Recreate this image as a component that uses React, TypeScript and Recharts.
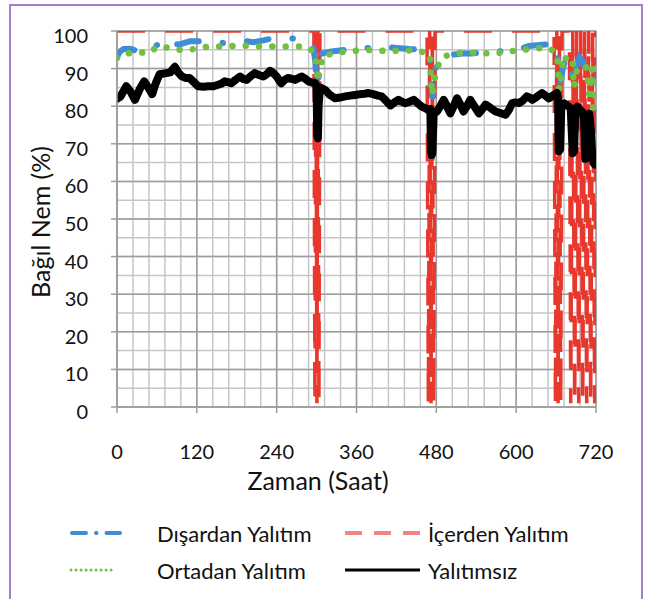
import React from "react";
import { LineChart, Line, XAxis, YAxis, CartesianGrid } from "recharts";

// tick labels
const xTicks = [0, 120, 240, 360, 480, 600, 720];
const yTicks = [0, 10, 20, 30, 40, 50, 60, 70, 80, 90, 100];
const xMinorTicks = Array.from({ length: 31 }, (_, i) => i * 24);
const yMinorTicks = Array.from({ length: 21 }, (_, i) => i * 5);
const X_MAX = 720;
const Y_MAX = 100;

// [saat, bağıl nem %]
const disardan = [
  [0, 93], [4, 94.5], [10, 95.2], [20, 95.3], [28, 94.8], [35, 94.5], [50, 95], [62, 96.5],
  [70, 97.8], [80, 96.5], [95, 96.5], [110, 97.3], [130, 97.3], [148, 97.3], [160, 96.8],
  [175, 97], [190, 97.4], [205, 97], [220, 97.5], [232, 98], [250, 98], [268, 98], [280, 97],
  [295, 96], [298, 92], [300, 86], [302, 85.5], [304, 92], [308, 94], [320, 94.5], [343, 95],
  [360, 95.2], [383, 95.6], [400, 95.8], [420, 95.5], [440, 95.2], [465, 95], [470, 94.5],
  [472, 88], [474, 82], [476, 86], [480, 91], [490, 93], [503, 93.7], [520, 94], [533, 94],
  [550, 94.3], [570, 94.6], [584, 94.6], [599, 94.8], [619, 96], [635, 96.3], [654, 96.5],
  [660, 96.3], [663, 92], [665, 88], [667, 86], [670, 90], [675, 93], [680, 92], [684, 88],
  [687, 86], [690, 90], [695, 93], [700, 92], [705, 89], [710, 90], [715, 88], [720, 85],
];

const icerden = [
  [0, 100], [296, 100], [297.5, 1], [299, 100], [300.5, 1], [302, 100], [303.5, 1], [305, 100],
  [466, 100], [468, 1], [470, 100], [472, 1], [474, 100], [476, 1], [478, 100],
  [657, 100], [659, 1], [661, 100], [663, 1], [665, 100], [667, 1], [669, 100],
  [680, 100], [682, 1], [685, 100], [688, 1], [691, 100], [694, 1], [697, 100], [700, 1],
  [703, 100], [706, 1], [709, 100], [712, 1], [715, 100], [718, 1], [720, 100],
];

const ortadan = [
  [0, 92.8], [10, 94], [22, 94.1], [35, 94.3], [48, 94.1], [60, 95.8], [75, 95.6], [90, 95],
  [110, 95], [125, 95.6], [145, 95.9], [165, 95.9], [185, 96.2], [205, 95.9], [225, 95.9],
  [245, 95.9], [265, 95.9], [285, 95.9], [298, 94.1], [300, 90], [302, 86.6], [305, 90],
  [310, 93.5], [323, 93.9], [345, 94.6], [365, 94.8], [385, 95], [405, 94.6], [425, 94.8],
  [450, 94.8], [470, 94], [471, 91], [472, 87.5], [473, 84.4], [474, 83], [478, 88], [485, 92],
  [491, 93.2], [510, 94.1], [528, 94.3], [550, 94.1], [570, 94.1], [590, 94.6], [612, 95],
  [634, 95.4], [652, 95.4], [662, 92.8], [663, 90], [664, 86.6], [665, 84.4], [668, 88],
  [671, 93.5], [678, 92], [685, 92.5], [686, 87.5], [687, 85], [690, 89], [695, 90.6],
  [705, 90.6], [708, 86.6], [710, 83], [712, 87], [714, 90], [716, 79.5], [718, 84], [720, 90],
];

const yalitimsiz = [
  [0, 82], [5, 82.5], [14, 85.3], [20, 84], [27, 81.7], [34, 84.5], [41, 86.6], [47, 85],
  [53, 83.2], [58, 86], [64, 88.5], [74, 88.8], [80, 89], [87, 90.5], [92, 89], [97, 88],
  [103, 87.5], [109, 87.5], [115, 86.5], [122, 85.3], [130, 85.2], [137, 85.3], [145, 85.3],
  [152, 85.7], [157, 86], [162, 86.6], [167, 86.4], [172, 86.1], [178, 87], [185, 87.9],
  [190, 87.2], [195, 87], [201, 88], [207, 88.8], [213, 88.3], [220, 87.9], [225, 88.5],
  [230, 89.4], [235, 88.8], [240, 87.9], [244, 86.8], [247, 86.1], [252, 87], [257, 87.5],
  [262, 87.3], [268, 87], [273, 87.5], [278, 87.9], [283, 87.3], [288, 86.6], [293, 86.3],
  [298, 86.1], [300, 85], [301, 72], [302, 71.5], [303, 80], [305, 85], [313, 84.3], [320, 83],
  [328, 82.1], [335, 82.3], [343, 82.6], [350, 82.8], [358, 83], [365, 83.2], [372, 83.3],
  [378, 83.5], [385, 83.2], [392, 82.8], [398, 82.6], [404, 81.5], [411, 80.2], [417, 81],
  [423, 81.7], [428, 81.2], [433, 80.8], [440, 81.2], [446, 81.7], [452, 80.8], [458, 79.9],
  [463, 79.5], [468, 79], [471, 79.3], [472, 68], [473, 67], [474, 67.5], [476, 78], [481, 78.6],
  [486, 80], [491, 81.7], [496, 80], [501, 78.1], [506, 80], [511, 82.1], [516, 80.5],
  [521, 78.6], [526, 80], [531, 81.7], [537, 80], [544, 78.1], [549, 79.2], [554, 80.4],
  [561, 79.6], [569, 78.6], [576, 78.2], [584, 77.7], [589, 79], [594, 80.8], [599, 81],
  [604, 80.8], [610, 81.5], [616, 82.6], [620, 82.3], [624, 81.7], [631, 82.5], [639, 83.5],
  [644, 82.8], [649, 82.1], [655, 82.8], [661, 83.5], [663, 82], [664, 68], [666, 68.5],
  [668, 80.5], [672, 80.8], [676, 80.3], [679, 79.9], [682, 79.5], [685, 67.5], [687, 68],
  [689, 79], [692, 79.9], [696, 79], [699, 78.6], [702, 77], [704, 66], [706, 70], [708, 77],
  [710, 78], [712, 74], [714, 68], [716, 65], [718, 64.5], [720, 66],
];

const toRows = (pts: number[][]) => pts.map(([h, v]) => ({ h, v }));

const FONT = "Lato, sans-serif";
const TEXT = "#111";

// minor grid lines (every 24 h / 5 %), placed with the axis scale when available
const minorVertical = ({ xAxis, offset }: any) =>
  xMinorTicks.map((t) =>
    xAxis && typeof xAxis.scale === "function"
      ? xAxis.scale(t)
      : offset.left + (t / X_MAX) * offset.width
  );
const minorHorizontal = ({ yAxis, offset }: any) =>
  yMinorTicks.map((t) =>
    yAxis && typeof yAxis.scale === "function"
      ? yAxis.scale(t)
      : offset.top + (1 - t / Y_MAX) * offset.height
  );

const YTick = ({ x, y, payload }: any) => (
  <text x={x} y={y + 4} textAnchor="end" dominantBaseline="central" fontSize={20} fill={TEXT} fontFamily={FONT}>
    {payload.value}
  </text>
);

const XTick = ({ x, y, payload }: any) => (
  <text x={x} y={y} textAnchor="middle" dominantBaseline="central" fontSize={20} fill={TEXT} fontFamily={FONT}>
    {payload.value}
  </text>
);

export default function App() {
  return (
    <div
      style={{
        position: "absolute", left: 0, top: 0, width: 653, height: 599,
        overflow: "hidden", background: "#fff", fontFamily: FONT,
      }}
    >
      {/* mor çerçeve */}
      <div style={{ position: "absolute", left: 9, top: 4, width: 630, height: 640, border: "2px solid #a37fcb" }} />

      <div style={{ position: "absolute", left: 0, top: 0 }}>
        <LineChart width={653} height={500} margin={{ top: 31, right: 57, left: 57, bottom: 53 }}>
          <CartesianGrid
            stroke="#c6c6c6" strokeWidth={1.5}
            verticalCoordinatesGenerator={minorVertical}
            horizontalCoordinatesGenerator={minorHorizontal}
          />
          <CartesianGrid stroke="#9d9d9d" strokeWidth={1.5} />
          <XAxis
            type="number" dataKey="h" domain={[0, X_MAX]} ticks={xTicks} height={40}
            stroke="#9d9d9d" strokeWidth={1.5} tickSize={6} tickMargin={38} tick={<XTick />}
            allowDataOverflow
          />
          <YAxis
            type="number" domain={[0, Y_MAX]} ticks={yTicks} width={60}
            stroke="#9d9d9d" strokeWidth={1.5} tickSize={6} tickMargin={23} tick={<YTick />}
            allowDataOverflow
          />
          <Line data={toRows(icerden)} dataKey="v" type="linear" stroke="#e8372d" strokeWidth={3.5}
            strokeDasharray="28 20" dot={false} isAnimationActive={false} />
          <Line data={toRows(disardan)} dataKey="v" type="linear" stroke="#3f8dd6" strokeWidth={6}
            strokeDasharray="22 24 0.5 24" strokeLinecap="round" dot={false} isAnimationActive={false} />
          <Line data={toRows(ortadan)} dataKey="v" type="linear" stroke="#72c043" strokeWidth={6.5}
            strokeDasharray="0.01 13.3" strokeLinecap="round" dot={false} isAnimationActive={false} />
          <Line data={toRows(yalitimsiz)} dataKey="v" type="linear" stroke="#000" strokeWidth={8}
            strokeLinejoin="round" strokeLinecap="round" dot={false} isAnimationActive={false} />
        </LineChart>
      </div>

      <svg width={653} height={599} style={{ position: "absolute", left: 0, top: 0, pointerEvents: "none" }}>
        <text transform="translate(40,222) rotate(-90)" textAnchor="middle" dominantBaseline="central"
          fontSize={25} fill={TEXT} fontFamily={FONT}>Bağıl Nem (%)</text>
        <text x={318} y={480} textAnchor="middle" dominantBaseline="central"
          fontSize={25} fill={TEXT} fontFamily={FONT}>Zaman (Saat)</text>

        {/* legend */}
        <g fontSize={22} fill={TEXT} fontFamily={FONT}>
          <line x1={72} y1={533} x2={120} y2={533} stroke="#3f8dd6" strokeWidth={4}
            strokeDasharray="14 10 0.5 10" strokeLinecap="round" />
          <text x={157} y={533} dominantBaseline="central">Dışardan Yalıtım</text>
          <line x1={345} y1={533} x2={420} y2={533} stroke="#f08585" strokeWidth={4} strokeDasharray="17 12" />
          <text x={428} y={533} dominantBaseline="central">İçerden Yalıtım</text>
          <line x1={71} y1={570} x2={112} y2={570} stroke="#72c043" strokeWidth={3}
            strokeDasharray="0.01 5" strokeLinecap="round" />
          <text x={157} y={570} dominantBaseline="central">Ortadan Yalıtım</text>
          <line x1={345} y1={570} x2={420} y2={570} stroke="#000" strokeWidth={3} />
          <text x={428} y={570} dominantBaseline="central">Yalıtımsız</text>
        </g>
      </svg>
    </div>
  );
}
